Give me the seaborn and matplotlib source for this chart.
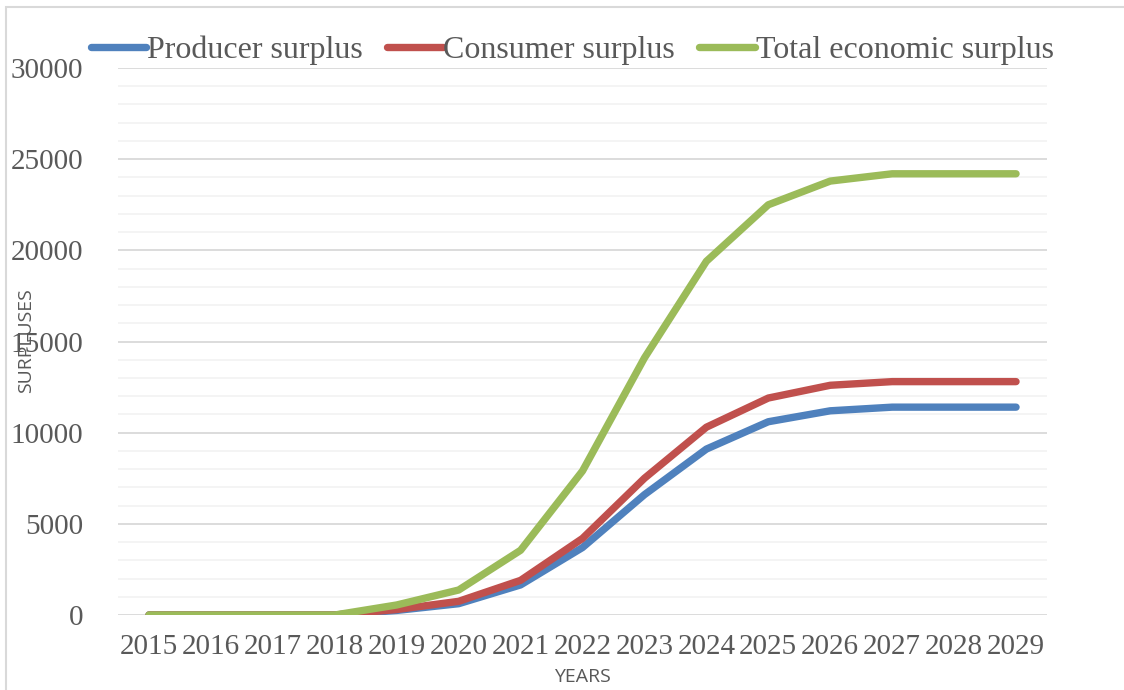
import pandas as pd
import seaborn as sns
import matplotlib.pyplot as plt
from matplotlib.patches import Rectangle
from matplotlib.ticker import MultipleLocator

# %%
years = list(range(2015, 2030))
producer = [0, 0, 0, 0, 250, 620, 1650, 3700, 6600, 9100, 10600, 11200, 11400, 11400, 11400]
consumer = [0, 0, 0, 0, 300, 750, 1900, 4200, 7500, 10300, 11900, 12600, 12800, 12800, 12800]
total = [0, 0, 0, 0, 550, 1370, 3550, 7900, 14100, 19400, 22500, 23800, 24200, 24200, 24200]
series_names = ["Producer surplus", "Consumer surplus", "Total economic surplus"]
colors = ["#4F81BD", "#C0504D", "#9BBB59"]

df = pd.DataFrame({"year": [str(y) for y in years] * 3,
                   "value": producer + consumer + total,
                   "series": [s for s in series_names for _ in years]})

# %%
sns.set_style("white")
plt.rcParams["font.family"] = ["Liberation Serif", "DejaVu Serif"]
text_color = "#595959"

fig = plt.figure(figsize=(11.24, 6.90), dpi=100)
ax = fig.add_axes([0.105, 0.1087, 0.8265, 0.7927])

sns.lineplot(data=df, x="year", y="value", hue="series", palette=colors,
             linewidth=5.3, ax=ax, solid_capstyle="round", sort=False)

ax.set_ylim(0, 30000)
ax.set_xlim(-0.5, len(years) - 0.5)
ax.yaxis.set_major_locator(MultipleLocator(5000))
ax.yaxis.set_minor_locator(MultipleLocator(1000))
ax.grid(which="minor", axis="y", color="#F2F2F2", linewidth=1.2)
ax.grid(which="major", axis="y", color="#D9D9D9", linewidth=1.3)
ax.set_axisbelow(True)
for s in ax.spines.values():
    s.set_visible(False)
ax.tick_params(axis="both", which="both", length=0, labelsize=21, colors=text_color)
ax.tick_params(axis="y", pad=25)
ax.tick_params(axis="x", pad=14)
ax.set_xlabel("")
ax.set_ylabel("")

handles, labels = ax.get_legend_handles_labels()
ax.get_legend().remove()
leg = fig.legend(handles, labels, loc="center", bbox_to_anchor=(0.509, 0.927), ncol=3,
                 frameon=False, fontsize=23, handlelength=1.75, handletextpad=0.02,
                 columnspacing=0.75, borderaxespad=0)
for t in leg.get_texts():
    t.set_color(text_color)
for h in leg.get_lines():
    h.set_linewidth(5.3)
    h.set_solid_capstyle("round")

fig.text(26 / 1124, 1 - 341 / 690, "SURPLUSES", rotation=90, ha="center", va="center",
         fontsize=14, color=text_color, family=["Open Sans", "DejaVu Sans"])
fig.text(582 / 1124, 1 - 677 / 690, "YEARS", ha="center", va="center",
         fontsize=14, color=text_color, family=["Open Sans", "DejaVu Sans"])

fig.patches.append(Rectangle((6 / 1124, -0.01), 1.1, 1 - 7 / 690 + 0.01, transform=fig.transFigure,
                             fill=False, edgecolor="#D9D9D9", linewidth=1.5))

plt.savefig("out.png", dpi=100)
